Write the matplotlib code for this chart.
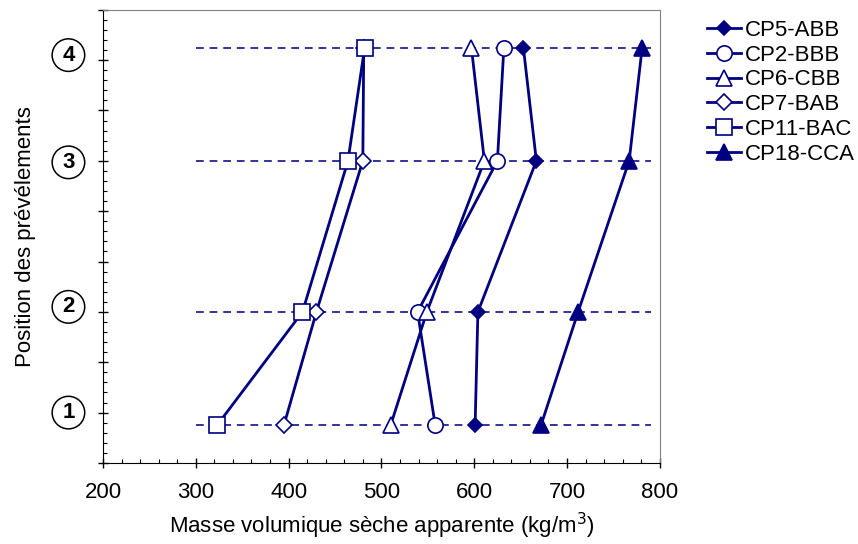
import matplotlib
matplotlib.use('Agg')
import matplotlib.pyplot as plt
from matplotlib.ticker import MultipleLocator

plt.rcParams['font.family'] = ['Liberation Sans', 'DejaVu Sans']

# sampling levels (y position) and densities per specimen
levels = [0.75, 3, 6, 8.25]
level_labels = ['1', '2', '3', '4']
label_pos = [1, 3.1, 5.97, 8.1]

cp5_abb = [601, 604, 667, 653]
cp2_bbb = [558, 539, 625, 632]
cp6_cbb = [510, 549, 611, 597]
cp7_bab = [395, 430, 480, 481]
cp11_bac = [323, 415, 464, 482]
cp18_cca = [672, 712, 767, 781]

names = ['CP5-ABB', 'CP2-BBB', 'CP6-CBB', 'CP7-BAB', 'CP11-BAC', 'CP18-CCA']
series = [cp5_abb, cp2_bbb, cp6_cbb, cp7_bab, cp11_bac, cp18_cca]
markers = ['D', 'o', '^', 'D', 's', '^']
fills = [True, False, False, False, False, True]
sizes = [7, 11, 11, 8, 11, 11]

navy = '#000080'

fig = plt.figure(figsize=(8.58, 5.44), dpi=100)
ax = fig.add_axes([0.12, 0.149, 0.649, 0.833])

for y in levels:
    ax.plot([300, 790], [y, y], ls=(0, (4, 3)), color='#333399', lw=1.4, zorder=1)

handles = []
for i in range(len(series)):
    h, = ax.plot(series[i], levels, color=navy, lw=2, marker=markers[i],
                 ms=sizes[i], mec=navy, mew=1.2,
                 mfc=navy if fills[i] else 'white', label=names[i], zorder=3)
    handles.append(h)

ax.set_xlim(200, 800)
ax.set_ylim(0, 9)
ax.xaxis.set_major_locator(MultipleLocator(100))
ax.xaxis.set_minor_locator(MultipleLocator(20))
ax.yaxis.set_major_locator(MultipleLocator(1))
ax.yaxis.set_minor_locator(MultipleLocator(0.2))
ax.tick_params(which='major', direction='inout', length=7, width=1, labelsize=16)
ax.tick_params(which='minor', direction='in', length=3, width=0.8)
ax.set_yticklabels([])
ax.tick_params(axis='x', pad=10)

for s in ['top', 'right']:
    ax.spines[s].set_color('#808080')

for lab, y in zip(level_labels, label_pos):
    ax.text(-0.062, y, lab, transform=ax.get_yaxis_transform(), ha='center', va='center',
            fontsize=16, fontweight='bold', clip_on=False,
            bbox=dict(boxstyle='circle,pad=0.26', fc='white', ec='black', lw=1.1))

ax.set_xlabel('Masse volumique sèche apparente (kg/m$^3$)', fontsize=16, labelpad=6)
ax.set_ylabel('Position des prévélements', fontsize=16, labelpad=41)

fig.legend(handles=handles, loc='upper left', bbox_to_anchor=(0.814, 0.98),
           frameon=False, fontsize=16, handlelength=1.5, handletextpad=0.2,
           labelspacing=0.17, borderaxespad=0)

fig.savefig('out.png', dpi=100)
